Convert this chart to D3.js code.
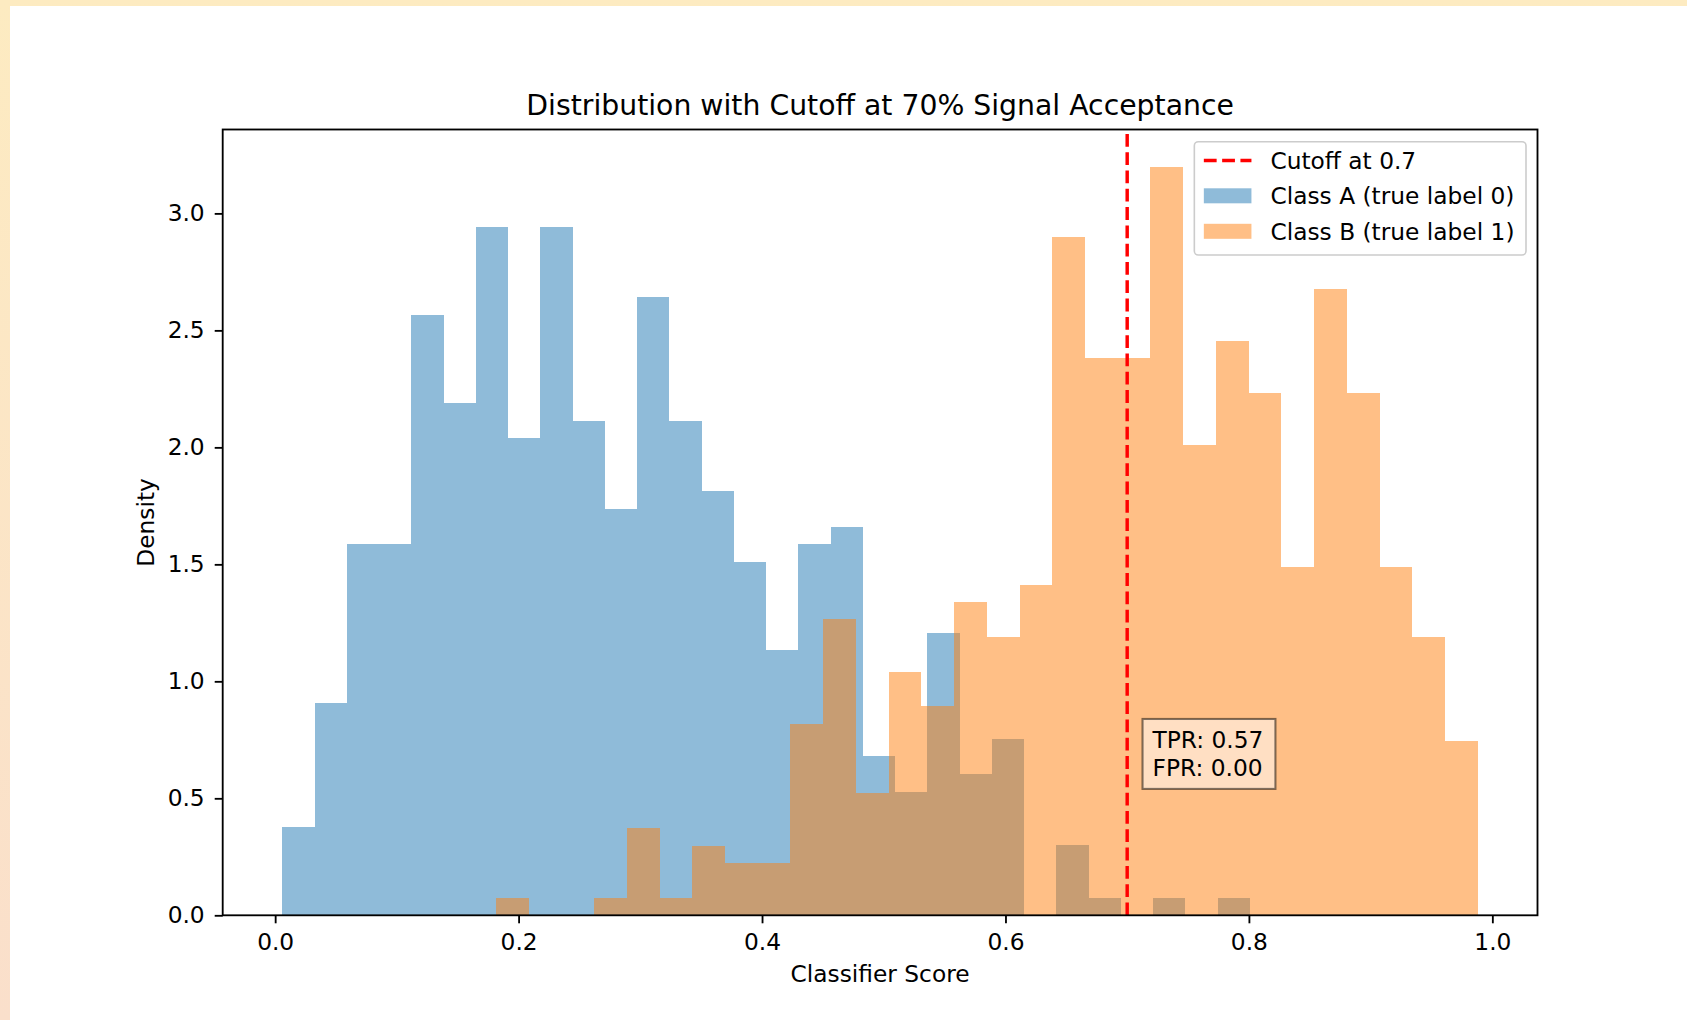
<!DOCTYPE html>
<html>
<head>
<meta charset="utf-8">
<script src="https://cdn.jsdelivr.net/npm/d3@7"></script>
<style>
  html, body { margin: 0; padding: 0; background: #ffffff; }
  svg { display: block; }
</style>
</head>
<body>
<svg id="chart" width="1687" height="1020"></svg>
<script>
// ---- Data: two score histograms, 30 equal-width bins each ----
const binCount = 30;
const classARange = [0.0060, 0.8009];   // first and last bin edge, class A
const classBRange = [0.1814, 0.9880];   // first and last bin edge, class B
const classACounts = [5, 12, 21, 21, 34, 29, 39, 27, 39, 28, 23, 35, 28, 24, 20,
                      15, 21, 22, 9, 7, 16, 8, 10, 0, 4, 1, 0, 1, 0, 1];
const classBCounts = [1, 0, 0, 1, 5, 1, 4, 3, 3, 11, 17, 7, 14, 12, 18,
                      16, 19, 39, 32, 32, 43, 27, 33, 30, 20, 36, 30, 20, 16, 10];
const cutoff = 0.7;
const xTicks = [0.0, 0.2, 0.4, 0.6, 0.8, 1.0];
const yTicks = [0.0, 0.5, 1.0, 1.5, 2.0, 2.5, 3.0];
const legendLabels = ["Cutoff at 0.7", "Class A (true label 0)", "Class B (true label 1)"];
const rateLines = ["TPR: 0.57", "FPR: 0.00"];
const rateAnchor = [0.72, 0.6];
const titleText = "Distribution with Cutoff at 70% Signal Acceptance";
const xLabelText = "Classifier Score";
const yLabelText = "Density";

// ---- Layout ----
const W = 1687, H = 1020;
const plot = { left: 222.7, right: 1537.5, top: 129.5, bottom: 915.3 };
const FONT = "DejaVu Sans, Liberation Sans, sans-serif";
const FS = 23.3;         // tick / label / legend size
const TITLE_FS = 28.3;
const BLUE = "#1f77b4", ORANGE = "#ff7f0e";

// Turn counts into density-normalised bins
function makeBins(range, counts) {
  const [lo, hi] = range;
  const w = (hi - lo) / binCount;
  const total = d3.sum(counts);
  return counts.map((c, i) => ({ x0: lo + i * w, x1: lo + (i + 1) * w, density: c / (total * w) }));
}
const binsA = makeBins(classARange, classACounts);
const binsB = makeBins(classBRange, classBCounts);

const svg = d3.select("#chart");

// Page backdrop with a soft tinted edge
const defs = svg.append("defs");
const grad = defs.append("linearGradient").attr("id", "edge").attr("x1", 0).attr("y1", 0).attr("x2", 0).attr("y2", 1);
grad.append("stop").attr("offset", "0%").attr("stop-color", "#fdebc1");
grad.append("stop").attr("offset", "100%").attr("stop-color", "#fadfcb");
svg.append("rect").attr("width", W).attr("height", H).attr("fill", "url(#edge)");
svg.append("rect").attr("x", 10).attr("y", 6).attr("width", W - 10).attr("height", H - 6).attr("fill", "#ffffff");

// Scales (5% x margin around the data, 5% headroom on y)
const xMin = Math.min(classARange[0], classBRange[0]);
const xMax = Math.max(classARange[1], classBRange[1]);
const xPad = (xMax - xMin) * 0.05;
const x = d3.scaleLinear().domain([xMin - xPad, xMax + xPad]).range([plot.left, plot.right]);
const yMax = d3.max(binsA.concat(binsB), d => d.density) * 1.05;
const y = d3.scaleLinear().domain([0, yMax]).range([plot.bottom, plot.top]);

// Histograms
function drawBins(bins, color, cls) {
  svg.append("g").attr("class", cls)
    .attr("shape-rendering", "crispEdges")
    .selectAll("rect").data(bins).join("rect")
    .attr("x", d => x(d.x0))
    .attr("width", d => x(d.x1) - x(d.x0))
    .attr("y", d => y(d.density))
    .attr("height", d => y(0) - y(d.density))
    .attr("fill", color)
    .attr("fill-opacity", 0.5);
}
drawBins(binsA, BLUE, "class-a");
drawBins(binsB, ORANGE, "class-b");

// Cutoff line
svg.append("line")
  .attr("x1", x(cutoff)).attr("x2", x(cutoff))
  .attr("y1", plot.bottom).attr("y2", plot.top)
  .attr("stroke", "#ff0000").attr("stroke-width", 3.45)
  .attr("stroke-dasharray", "12.8,5.5");

// Axes
const xAxis = d3.axisBottom(x).tickValues(xTicks).tickFormat(d3.format(".1f"))
  .tickSize(8).tickSizeOuter(0).tickPadding(10.5);
const yAxis = d3.axisLeft(y).tickValues(yTicks).tickFormat(d3.format(".1f"))
  .tickSize(8).tickSizeOuter(0).tickPadding(10);

const gx = svg.append("g").attr("transform", `translate(0,${plot.bottom})`).call(xAxis);
const gy = svg.append("g").attr("transform", `translate(${plot.left},0)`).call(yAxis);
[gx, gy].forEach(g => {
  g.select(".domain").remove();
  g.selectAll(".tick line").attr("stroke", "#000").attr("stroke-width", 1.84);
  g.selectAll(".tick text").attr("fill", "#000").attr("font-family", FONT).attr("font-size", FS);
});

// Frame
svg.append("rect")
  .attr("x", plot.left).attr("y", plot.top)
  .attr("width", plot.right - plot.left).attr("height", plot.bottom - plot.top)
  .attr("fill", "none").attr("stroke", "#000").attr("stroke-width", 1.84);

// Title and axis labels
svg.append("text")
  .attr("x", (plot.left + plot.right) / 2).attr("y", 115)
  .attr("text-anchor", "middle").attr("font-family", FONT).attr("font-size", TITLE_FS)
  .attr("fill", "#000").text(titleText);
svg.append("text")
  .attr("x", (plot.left + plot.right) / 2).attr("y", 982)
  .attr("text-anchor", "middle").attr("font-family", FONT).attr("font-size", FS)
  .attr("fill", "#000").text(xLabelText);
svg.append("text")
  .attr("transform", `translate(154,${(plot.top + plot.bottom) / 2}) rotate(-90)`)
  .attr("text-anchor", "middle").attr("font-family", FONT).attr("font-size", FS)
  .attr("fill", "#000").text(yLabelText);

// Rate annotation box
const rate = svg.append("g");
const rateBox = rate.append("rect");
const rateText = rate.append("text")
  .attr("font-family", FONT).attr("font-size", FS).attr("fill", "#000");
const lineGap = FS * 1.2;
rateLines.forEach((t, i) => {
  rateText.append("tspan")
    .attr("x", x(rateAnchor[0]) + 1)
    .attr("y", y(rateAnchor[1]) + 1.5 - (rateLines.length - 1 - i) * lineGap)
    .text(t);
});
const rb = rateText.node().getBBox();
const padL = 9, padR = 12, padY = 7.5;
rateBox
  .attr("x", rb.x - padL).attr("y", rb.y - padY)
  .attr("width", rb.width + padL + padR).attr("height", rb.height + 2 * padY)
  .attr("fill", "#ffffff").attr("fill-opacity", 0.5)
  .attr("stroke", "#000").attr("stroke-opacity", 0.5).attr("stroke-width", 2.1);

// Legend (upper right)
const legend = svg.append("g");
const legBox = legend.append("rect");
const rowY = [160.5, 195.8, 231.3];
const handleLen = 47.6, handleH = 15, textGap = 19, borderPad = 9.5;
const legTexts = legendLabels.map((t, i) =>
  legend.append("text").attr("font-family", FONT).attr("font-size", FS).attr("fill", "#000")
    .attr("y", rowY[i] + 8.4).text(t));
const maxTextW = d3.max(legTexts, t => t.node().getComputedTextLength());
const legRight = plot.right - 11.5;
const legW = borderPad + handleLen + textGap + maxTextW + borderPad + 2;
const legLeft = legRight - legW;
const legTop = plot.top + 12.2;
const legBottom = 255;
legBox.attr("x", legLeft).attr("y", legTop).attr("width", legW).attr("height", legBottom - legTop)
  .attr("rx", 4).attr("ry", 4)
  .attr("fill", "#ffffff").attr("fill-opacity", 0.8)
  .attr("stroke", "#cccccc").attr("stroke-width", 1.6);
const hx = legLeft + borderPad;
legTexts.forEach(t => t.attr("x", hx + handleLen + textGap));
legend.append("line")
  .attr("x1", hx).attr("x2", hx + handleLen).attr("y1", rowY[0]).attr("y2", rowY[0])
  .attr("stroke", "#ff0000").attr("stroke-width", 3.45).attr("stroke-dasharray", "12.8,5.5");
[[BLUE, 1], [ORANGE, 2]].forEach(([c, i]) => {
  legend.append("rect")
    .attr("x", hx).attr("y", rowY[i] - handleH / 2)
    .attr("width", handleLen).attr("height", handleH)
    .attr("fill", c).attr("fill-opacity", 0.5);
});
</script>
</body>
</html>
